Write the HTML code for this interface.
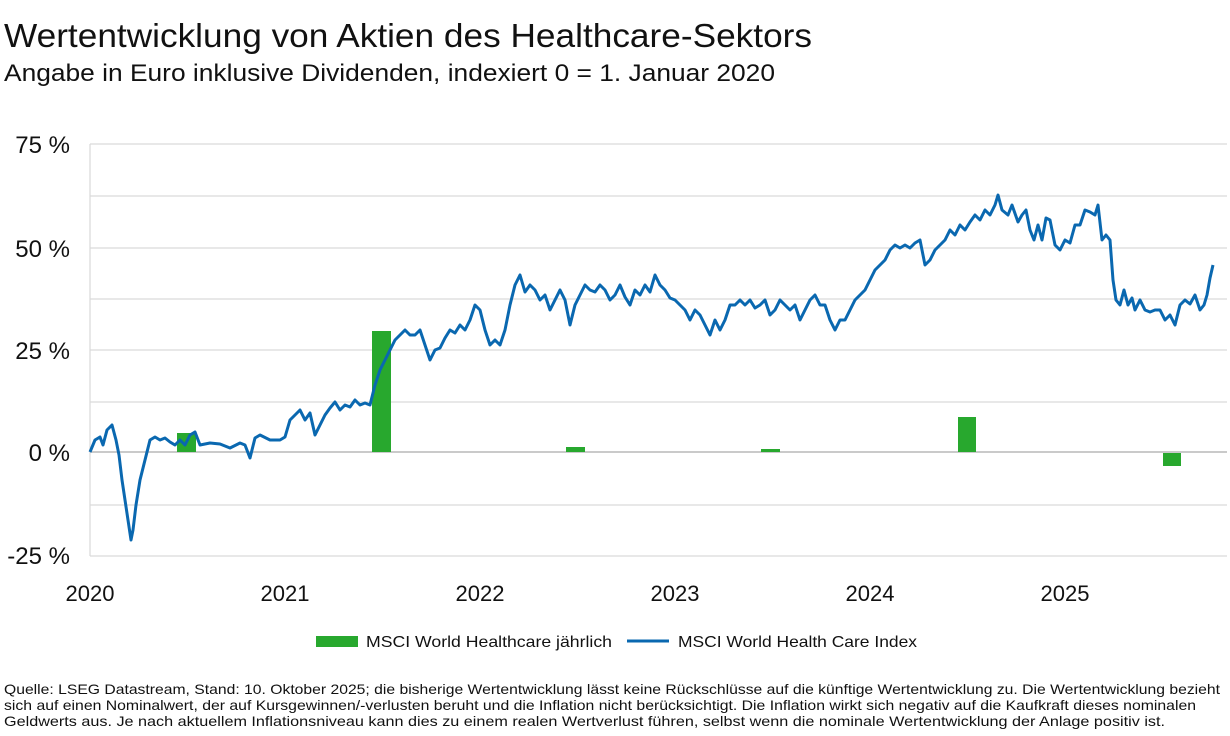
<!DOCTYPE html>
<html><head><meta charset="utf-8"><style>
body{margin:0;background:#fff;font-family:"Liberation Sans",sans-serif;color:#111;}
svg{display:block}
</style></head><body>
<svg width="1230" height="736" xmlns="http://www.w3.org/2000/svg" font-family="Liberation Sans, sans-serif">
<text x="4" y="47" font-size="33" fill="#111" textLength="808" lengthAdjust="spacingAndGlyphs">Wertentwicklung von Aktien des Healthcare-Sektors</text>
<text x="4" y="81" font-size="24" fill="#111" textLength="771" lengthAdjust="spacingAndGlyphs">Angabe in Euro inklusive Dividenden, indexiert 0 = 1. Januar 2020</text>
<g stroke="#d9d9d9" stroke-width="1.2">
<line x1="90" y1="144" x2="1227" y2="144"/><line x1="90" y1="196" x2="1227" y2="196"/>
<line x1="90" y1="248" x2="1227" y2="248"/><line x1="90" y1="299" x2="1227" y2="299"/>
<line x1="90" y1="350" x2="1227" y2="350"/><line x1="90" y1="402" x2="1227" y2="402"/>
<line x1="90" y1="505" x2="1227" y2="505"/><line x1="90" y1="556" x2="1227" y2="556"/>
<line x1="90" y1="144" x2="90" y2="556"/>
</g>
<line x1="90" y1="452" x2="1227" y2="452" stroke="#b8b8b8" stroke-width="1.5"/>
<g font-size="24" fill="#111" text-anchor="end">
<text x="70" y="153">75 %</text><text x="70" y="257">50 %</text><text x="70" y="359">25 %</text>
<text x="70" y="461">0 %</text><text x="70" y="564">-25 %</text>
</g>
<g font-size="22" fill="#111" text-anchor="middle">
<text x="90" y="601">2020</text><text x="285" y="601">2021</text><text x="480" y="601">2022</text>
<text x="675" y="601">2023</text><text x="870" y="601">2024</text><text x="1065" y="601">2025</text>
</g>
<g fill="#28a82e">
<rect x="177" y="433" width="19" height="19"/><rect x="372" y="331" width="19" height="121"/>
<rect x="566" y="447" width="19" height="5"/><rect x="761" y="449" width="19" height="3"/>
<rect x="958" y="417" width="18" height="35"/><rect x="1163" y="453" width="18" height="13"/>
</g>
<polyline fill="none" stroke="#0a68b0" stroke-width="3" stroke-linejoin="round" points="90,452 95,440 100,437 103,445 107,430 112,425 116,440 119,455 122,480 125,500 128,520 131,540 133,530 136,505 140,480 145,460 150,440 155,437 160,440 165,438 170,442 175,445 180,440 185,445 190,435 195,432 200,445 210,443 220,444 230,448 240,443 245,445 250,458 255,438 260,435 270,440 280,440 285,437 290,420 295,415 300,410 305,420 310,413 315,435 320,425 325,415 330,408 335,402 340,410 345,405 350,407 355,400 360,405 365,403 370,405 375,385 380,370 385,360 390,350 395,340 400,335 405,330 410,335 415,335 420,330 425,345 430,360 435,350 440,348 445,338 450,330 455,333 460,325 465,330 470,320 475,305 480,310 485,330 490,345 495,340 500,345 505,330 510,305 515,285 520,275 525,292 530,285 535,290 540,300 545,295 550,310 555,300 560,290 565,300 570,325 575,305 580,295 585,285 590,290 595,292 600,285 605,290 610,300 615,295 620,285 625,297 630,305 635,290 640,295 645,285 650,292 655,275 660,285 665,290 670,298 675,300 680,305 685,310 690,320 695,310 700,315 705,325 710,335 715,320 720,330 725,320 730,305 735,305 740,300 745,305 750,300 755,308 760,305 765,300 770,315 775,310 780,300 785,305 790,310 795,305 800,320 805,310 810,300 815,295 820,305 825,305 830,320 835,330 840,320 845,320 850,310 855,300 860,295 865,290 870,280 875,270 880,265 885,260 890,250 895,245 900,248 905,245 910,248 915,243 920,240 925,265 930,260 935,250 940,245 945,240 950,230 955,235 960,225 965,230 970,222 975,215 980,220 985,210 990,215 995,205 998,195 1002,210 1008,215 1012,205 1018,222 1022,215 1026,210 1030,230 1034,240 1038,225 1042,240 1046,218 1050,220 1055,245 1060,250 1065,240 1070,243 1075,225 1080,225 1085,210 1090,212 1095,215 1098,205 1102,240 1106,235 1110,240 1113,280 1116,300 1120,305 1124,290 1128,305 1132,298 1135,310 1140,300 1145,310 1150,312 1155,310 1160,310 1165,320 1170,315 1175,325 1180,305 1185,300 1190,304 1195,295 1200,310 1204,305 1207,295 1210,278 1213,265"/>
<rect x="316" y="636" width="42" height="11" fill="#28a82e"/>
<text x="366" y="647" font-size="16" fill="#111" textLength="246" lengthAdjust="spacingAndGlyphs">MSCI World Healthcare jährlich</text>
<line x1="627" y1="641" x2="669" y2="641" stroke="#0a68b0" stroke-width="3"/>
<text x="678" y="647" font-size="16" fill="#111" textLength="239" lengthAdjust="spacingAndGlyphs">MSCI World Health Care Index</text>
<g font-size="14" fill="#111">
<text x="4" y="694" textLength="1216" lengthAdjust="spacingAndGlyphs">Quelle: LSEG Datastream, Stand: 10. Oktober 2025; die bisherige Wertentwicklung lässt keine Rückschlüsse auf die künftige Wertentwicklung zu. Die Wertentwicklung bezieht</text>
<text x="4" y="710" textLength="1192" lengthAdjust="spacingAndGlyphs">sich auf einen Nominalwert, der auf Kursgewinnen/-verlusten beruht und die Inflation nicht berücksichtigt. Die Inflation wirkt sich negativ auf die Kaufkraft dieses nominalen</text>
<text x="4" y="726" textLength="1161" lengthAdjust="spacingAndGlyphs">Geldwerts aus. Je nach aktuellem Inflationsniveau kann dies zu einem realen Wertverlust führen, selbst wenn die nominale Wertentwicklung der Anlage positiv ist.</text>
</g>
</svg>
</body></html>
